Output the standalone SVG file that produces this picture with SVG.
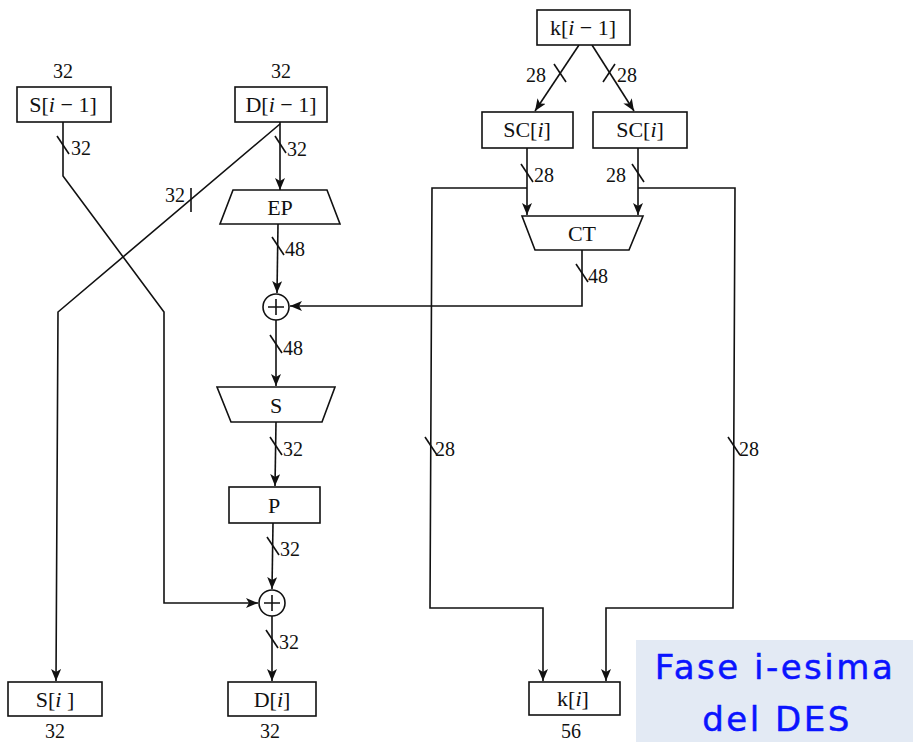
<svg xmlns="http://www.w3.org/2000/svg" width="913" height="742" viewBox="0 0 913 742">
<defs>
<marker id="arr" markerWidth="12" markerHeight="10" refX="12" refY="5" orient="auto" markerUnits="userSpaceOnUse"><path d="M0,0 L12,5 L0,10 L3,5 z" fill="#111"/></marker>
<style>
.ln{fill:none;stroke:#111;stroke-width:1.6}
.bx{fill:#fff;stroke:#111;stroke-width:1.6}
.t{font-family:"Liberation Serif","Times New Roman",serif;font-size:22px;fill:#111;text-anchor:middle}
.n{font-family:"Liberation Serif","Times New Roman",serif;font-size:20px;fill:#111}
.c{text-anchor:middle}
.i{font-style:italic}
.tl{font-family:"DejaVu Sans","Noto Sans",sans-serif;font-size:34px;fill:#0a14ff;stroke:#0a14ff;stroke-width:0.5;letter-spacing:2.5px;text-anchor:middle}
</style>
</defs>
<rect width="913" height="742" fill="#fff"/>

<g id="connectors">
<polyline class="ln" points="63,122 63,176 164,312 164,603 258,603" marker-end="url(#arr)"/>
<polyline class="ln" points="280,124 58,312 56,681" marker-end="url(#arr)"/>
<line class="ln" x1="191" y1="188" x2="191" y2="212"/>
<line class="ln" x1="280" y1="122" x2="280" y2="190" marker-end="url(#arr)"/>
<line class="ln" x1="275" y1="136" x2="286" y2="153"/>
<line class="ln" x1="278" y1="224" x2="277" y2="293" marker-end="url(#arr)"/>
<line class="ln" x1="272" y1="237" x2="284" y2="255"/>
<line class="ln" x1="276" y1="320" x2="276" y2="386" marker-end="url(#arr)"/>
<line class="ln" x1="270" y1="335" x2="282" y2="353"/>
<line class="ln" x1="276" y1="422" x2="275" y2="486" marker-end="url(#arr)"/>
<line class="ln" x1="270" y1="437" x2="282" y2="455"/>
<line class="ln" x1="273" y1="523" x2="272" y2="589" marker-end="url(#arr)"/>
<line class="ln" x1="267" y1="537" x2="279" y2="555"/>
<line class="ln" x1="272" y1="616" x2="272" y2="681" marker-end="url(#arr)"/>
<line class="ln" x1="266" y1="630" x2="278" y2="648"/>
<line class="ln" x1="579" y1="45" x2="535" y2="111" marker-end="url(#arr)"/>
<line class="ln" x1="554" y1="64" x2="566" y2="82"/>
<line class="ln" x1="592" y1="45" x2="634" y2="111" marker-end="url(#arr)"/>
<line class="ln" x1="603" y1="82" x2="615" y2="64"/>
<line class="ln" x1="527" y1="148" x2="527" y2="215" marker-end="url(#arr)"/>
<line class="ln" x1="521" y1="164" x2="533" y2="182"/>
<line class="ln" x1="638" y1="148" x2="638" y2="215" marker-end="url(#arr)"/>
<line class="ln" x1="632" y1="164" x2="644" y2="182"/>
<polyline class="ln" points="582,250 582,306 290,306" marker-end="url(#arr)"/>
<line class="ln" x1="576" y1="264" x2="588" y2="282"/>
<polyline class="ln" points="527,188 432,188 430,608 543,608 543,681" marker-end="url(#arr)"/>
<line class="ln" x1="425" y1="437" x2="437" y2="455"/>
<polyline class="ln" points="638,188 735,188 733,608 606,608 606,681" marker-end="url(#arr)"/>
<line class="ln" x1="728" y1="437" x2="740" y2="455"/>
<line class="ln" x1="57" y1="136" x2="69" y2="154"/>
</g>

<g id="conn-labels">
<text class="n" x="165" y="202">32</text>
<text class="n" x="287" y="156">32</text>
<text class="n" x="285" y="256">48</text>
<text class="n" x="283" y="355">48</text>
<text class="n" x="283" y="456">32</text>
<text class="n" x="280" y="556">32</text>
<text class="n" x="279" y="649">32</text>
<text class="n" x="71" y="155">32</text>
<text class="n" x="526" y="82">28</text>
<text class="n" x="617" y="82">28</text>
<text class="n" x="534" y="182">28</text>
<text class="n" x="606" y="182">28</text>
<text class="n" x="588" y="283">48</text>
<text class="n" x="435" y="456">28</text>
<text class="n" x="739" y="456">28</text>
</g>

<g id="S_im1">
<text class="n c" x="63" y="78">32</text>
<rect class="bx" x="17" y="87" width="94" height="35"/>
<text class="t" x="63" y="112">S[<tspan class="i">i</tspan> − 1]</text>
</g>
<g id="D_im1">
<text class="n c" x="281" y="78">32</text>
<rect class="bx" x="235" y="87" width="92" height="35"/>
<text class="t" x="281" y="112">D[<tspan class="i">i</tspan> − 1]</text>
</g>
<g id="EP">
<polygon class="bx" points="233,190 327,190 340,224 220,224"/>
<text class="t" x="280" y="215">EP</text>
</g>
<g id="XOR1">
<circle class="bx" cx="276" cy="307" r="13"/>
<path class="ln" d="M268,307 H284 M276,299 V315" stroke-width="1.3"/>
</g>
<g id="S">
<polygon class="bx" points="217,387 335,387 322,422 231,422"/>
<text class="t" x="276" y="413">S</text>
</g>
<g id="P">
<rect class="bx" x="229" y="487" width="91" height="36"/>
<text class="t" x="274" y="513">P</text>
</g>
<g id="XOR2">
<circle class="bx" cx="272" cy="603" r="13"/>
<path class="ln" d="M264,603 H280 M272,595 V611" stroke-width="1.3"/>
</g>
<g id="S_i">
<rect class="bx" x="8" y="682" width="94" height="34"/>
<text class="t" x="55" y="707">S[<tspan class="i">i</tspan> ]</text>
<text class="n c" x="55" y="738">32</text>
</g>
<g id="D_i">
<rect class="bx" x="228" y="682" width="88" height="34"/>
<text class="t" x="272" y="707">D[<tspan class="i">i</tspan>]</text>
<text class="n c" x="270" y="738">32</text>
</g>
<g id="k_im1">
<rect class="bx" x="537" y="10" width="93" height="35"/>
<text class="t" x="583" y="35">k[<tspan class="i">i</tspan> − 1]</text>
</g>
<g id="SC_left">
<rect class="bx" x="482" y="112" width="91" height="36"/>
<text class="t" x="527" y="137">SC[<tspan class="i">i</tspan>]</text>
</g>
<g id="SC_right">
<rect class="bx" x="593" y="112" width="94" height="36"/>
<text class="t" x="640" y="137">SC[<tspan class="i">i</tspan>]</text>
</g>
<g id="CT">
<polygon class="bx" points="522,216 643,216 629,250 535,250"/>
<text class="t" x="582" y="241">CT</text>
</g>
<g id="k_i">
<rect class="bx" x="529" y="682" width="91" height="33"/>
<text class="t" x="573" y="706">k[<tspan class="i">i</tspan>]</text>
<text class="n c" x="571" y="738">56</text>
</g>
<g id="title">
<rect x="636" y="640" width="277" height="102" fill="#e3eaf4"/>
<text class="tl" x="775" y="679">Fase i-esima</text>
<text class="tl" x="777" y="731">del DES</text>
</g>
</svg>
